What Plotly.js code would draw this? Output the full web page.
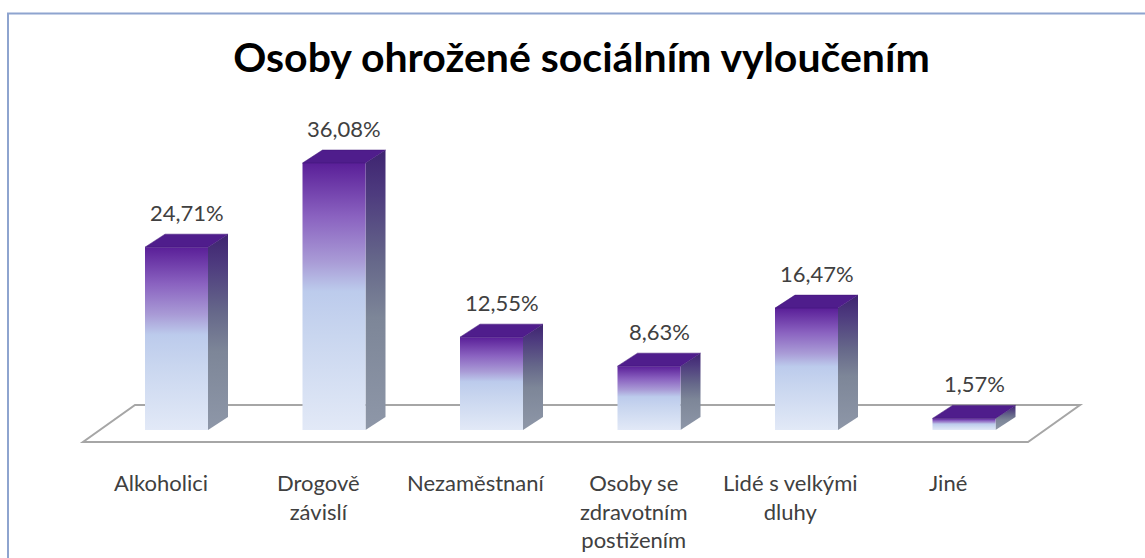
<!DOCTYPE html>
<html><head><meta charset="utf-8">
<script src="https://cdn.plot.ly/plotly-3.0.1.min.js"></script>
<style>html,body{margin:0;padding:0;background:#fff;}#chart{width:1145px;height:558px;}</style>
</head><body><div id="chart"></div>
<script>
const categories = ["Alkoholici","Drogově<br>závislí","Nezaměstnaní","Osoby se<br>zdravotním<br>postižením","Lidé s velkými<br>dluhy","Jiné"];
const values = [24.71, 36.08, 12.55, 8.63, 16.47, 1.57];
const valueLabels = ["24,71%","36,08%","12,55%","8,63%","16,47%","1,57%"];
const chartTitle = "Osoby ohrožené sociálním vyloučením";

const W = 1145, H = 558;
const X0 = 176.5, XS = 157.5;   // pixel of first category centre, pixels per category
const Y0 = 430, YS = 7.4;       // pixel of bar base, pixels per percent point
const xr = [-X0 / XS, (W - X0) / XS];
const yr = [(Y0 - H) / YS, Y0 / YS];
const half = 0.2, ddx = 20 / XS, ddy = 13 / YS;

const frontScale = [[0,'#e2e9f7'],[0.35,'#c9d6ef'],[0.52,'#bccbec'],[0.63,'#a99bd6'],[0.8,'#8a62c0'],[1,'#5a1f98']];
const sideScale = [[0,'#8e97a8'],[0.4,'#7d8698'],[0.6,'#66688a'],[0.85,'#4d3a7e'],[1,'#3e2470']];

const traces = [];
values.forEach((v, i) => {
  const c = i;
  traces.push({
    type: 'scatter', mode: 'lines', hoverinfo: 'skip', line: {width: 0},
    x: [c+half, c+half+ddx, c+half+ddx, c+half, c+half],
    y: [0, ddy, v+ddy, v, 0],
    fill: 'toself',
    fillgradient: {type: 'vertical', start: 0, stop: v+ddy, colorscale: sideScale}
  });
  traces.push({
    type: 'scatter', mode: 'lines', hoverinfo: 'skip', line: {width: 0},
    x: [c-half, c+half, c+half, c-half, c-half],
    y: [0, 0, v, v, 0],
    fill: 'toself',
    fillgradient: {type: 'vertical', start: 0, stop: v, colorscale: frontScale}
  });
  traces.push({
    type: 'scatter', mode: 'lines', hoverinfo: 'skip', line: {width: 0.5, color: '#3f1577'},
    x: [c-half, c+half, c+half+ddx, c-half+ddx, c-half],
    y: [v, v, v+ddy, v+ddy, v],
    fill: 'toself', fillcolor: '#4f1d8c'
  });
});

const annotations = [];
values.forEach((v, i) => {
  annotations.push({
    x: i + ddx/2, y: v + ddy, xref: 'x', yref: 'y', yanchor: 'middle', xanchor: 'center',
    yshift: 22, showarrow: false, text: valueLabels[i],
    font: {family: 'Lato, "Open Sans", sans-serif', size: 22, color: '#404040'}
  });
  annotations.push({
    x: i - 16/XS, y: 1 - 467/H, xref: 'x', yref: 'paper', yanchor: 'top', xanchor: 'center',
    showarrow: false, text: categories[i], align: 'center',
    font: {family: 'Lato, "Open Sans", sans-serif', size: 22, color: '#404040'}
  });
});

const px = (p) => (p / W).toFixed(5);
const py = (p) => (1 - p / H).toFixed(5);
const floorPath = `M ${px(83)} ${py(442)} L ${px(1028)} ${py(442)} L ${px(1080)} ${py(405)} L ${px(135)} ${py(405)} Z`;

const layout = {
  width: W, height: H,
  margin: {l: 0, r: 0, t: 0, b: 0},
  paper_bgcolor: '#ffffff', plot_bgcolor: 'rgba(0,0,0,0)',
  showlegend: false,
  title: {text: '<b>' + chartTitle + '</b>', x: 581.5 / W, xanchor: 'center', xref: 'container',
          y: 1 - 58 / H, yanchor: 'middle', yref: 'container',
          font: {family: 'Lato, "Open Sans", sans-serif', size: 41, color: '#000000'}},
  xaxis: {range: xr, visible: false, fixedrange: true},
  yaxis: {range: yr, visible: false, fixedrange: true},
  shapes: [
    {type: 'rect', xref: 'paper', yref: 'paper', x0: px(8), x1: 1.02, y0: -0.02, y1: py(13.5),
     line: {color: '#8ea4cf', width: 2}, fillcolor: 'rgba(0,0,0,0)', layer: 'below'},
    {type: 'path', xref: 'paper', yref: 'paper', path: floorPath,
     line: {color: '#a6a6a6', width: 2}, fillcolor: 'rgba(0,0,0,0)', layer: 'below'}
  ],
  annotations: annotations
};

Plotly.newPlot('chart', traces, layout, {displayModeBar: false, staticPlot: true});
</script>
</body></html>
